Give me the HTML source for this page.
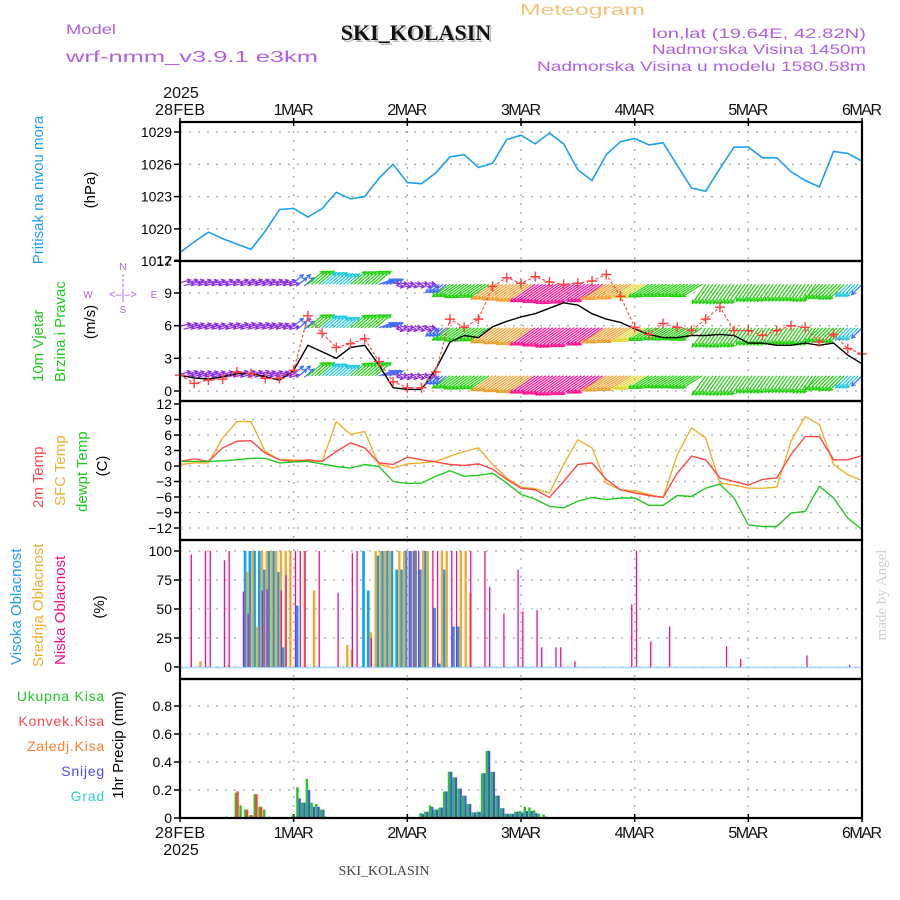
<!DOCTYPE html>
<html><head><meta charset="utf-8">
<style>
html,body{margin:0;padding:0;background:#fff;}
svg{display:block;font-family:"Liberation Sans",sans-serif;}
</style></head>
<body>
<svg id="chart" width="900" height="900" viewBox="0 0 900 900" xmlns="http://www.w3.org/2000/svg">
<text x="520" y="15" font-size="16" fill="#f2c47a" textLength="125" lengthAdjust="spacingAndGlyphs">Meteogram</text>
<text x="418" y="42" font-size="22" font-weight="bold" font-family="Liberation Serif,serif" fill="#bbb" text-anchor="middle">SKI_KOLASIN</text>
<text x="416" y="40" font-size="22" font-weight="bold" font-family="Liberation Serif,serif" fill="#111" text-anchor="middle">SKI_KOLASIN</text>
<text x="66" y="34" font-size="14" fill="#b060e8" textLength="50" lengthAdjust="spacingAndGlyphs">Model</text>
<text x="66" y="62" font-size="16" fill="#b060e8" textLength="252" lengthAdjust="spacingAndGlyphs">wrf-nmm_v3.9.1  e3km</text>
<text x="652" y="38" font-size="14" fill="#b060e8" textLength="214" lengthAdjust="spacingAndGlyphs">lon,lat (19.64E, 42.82N)</text>
<text x="652" y="54" font-size="14" fill="#b060e8" textLength="214" lengthAdjust="spacingAndGlyphs">Nadmorska Visina 1450m</text>
<text x="537" y="71" font-size="14" fill="#b060e8" textLength="329" lengthAdjust="spacingAndGlyphs">Nadmorska Visina u modelu 1580.58m</text>
<text x="384" y="875" font-size="14" font-family="Liberation Serif,serif" fill="#444" text-anchor="middle">SKI_KOLASIN</text>
<text transform="translate(886,595) rotate(-90)" font-size="15" font-family="Liberation Serif,serif" fill="#d0d0d0" text-anchor="middle">made by Angel</text>

<text transform="translate(43,190) rotate(-90)" font-size="15" fill="#1ea0f0" text-anchor="middle">Pritisak na nivou mora</text>
<text transform="translate(95,190) rotate(-90)" font-size="15" fill="#000" text-anchor="middle">(hPa)</text>
<text transform="translate(43,382) rotate(-90)" font-size="15" fill="#22c822">10m Vjetar</text>
<text transform="translate(65,382) rotate(-90)" font-size="15" fill="#22c822">Brzina i Pravac</text>
<text transform="translate(95,322) rotate(-90)" font-size="15" fill="#000" text-anchor="middle">(m/s)</text>
<g fill="#b060e8" font-size="10">
<text x="123" y="270" text-anchor="middle">N</text>
<text x="123" y="313" text-anchor="middle">S</text>
<text x="88" y="298" text-anchor="middle">W</text>
<text x="154" y="298" text-anchor="middle">E</text>
<text x="123" y="298" text-anchor="middle" font-size="11">&lt;–|–&gt;</text>
<line x1="123" y1="274" x2="123" y2="304" stroke="#b060e8" stroke-dasharray="3,2"/>
</g>
<text transform="translate(43,508) rotate(-90)" font-size="15" fill="#ff4848">2m Temp</text>
<text transform="translate(65,506) rotate(-90)" font-size="15" fill="#f0b030">SFC Temp</text>
<text transform="translate(87,512) rotate(-90)" font-size="15" fill="#22c822">dewpt Temp</text>
<text transform="translate(107,466) rotate(-90)" font-size="15" fill="#000" text-anchor="middle">(C)</text>
<text transform="translate(21,665) rotate(-90)" font-size="15" fill="#1ea0f0">Visoka Oblacnost</text>
<text transform="translate(43,667) rotate(-90)" font-size="15" fill="#f0b030">Srednja Oblacnost</text>
<text transform="translate(65,665) rotate(-90)" font-size="15" fill="#f0108a">Niska Oblacnost</text>
<text transform="translate(104,607) rotate(-90)" font-size="15" fill="#000" text-anchor="middle">(%)</text>
<g font-size="14" text-anchor="end" letter-spacing="0.8">
<text x="105" y="701" fill="#22c822">Ukupna Kisa</text>
<text x="105" y="726" fill="#ff4848">Konvek.Kisa</text>
<text x="105" y="751" fill="#ff8030">Zaledj.Kisa</text>
<text x="105" y="776" fill="#4a4aff">Snijeg</text>
<text x="105" y="801" fill="#30d0d0">Grad</text>
</g>
<text transform="translate(123,745) rotate(-90)" font-size="15" fill="#000" text-anchor="middle">1hr Precip (mm)</text>
<g id="plot"></g>
</svg>
<script>
// ---------- data ----------
const dayLabels = ["28FEB","1MAR","2MAR","3MAR","4MAR","5MAR","6MAR"];
const yearLabel = "2025";
// 3-hourly series (49 points, hour = 3*index)
const pressure = [1017.8,1018.8,1019.7,1019.1,1018.6,1018.1,1019.8,1021.8,1021.9,1021.1,1021.9,1023.4,1022.8,1023.0,1024.7,1026.0,1024.3,1024.2,1025.2,1026.7,1026.9,1025.7,1026.1,1028.3,1028.7,1027.9,1028.9,1027.9,1025.5,1024.5,1026.9,1028.1,1028.4,1027.8,1028.0,1025.9,1023.8,1023.5,1025.6,1027.6,1027.6,1026.6,1026.6,1025.3,1024.5,1023.9,1027.2,1027.0,1026.3];
const windSpeed = [1.45,1.2,1.1,1.3,1.6,1.6,1.3,1.0,1.9,4.2,3.6,3.0,4.0,4.2,2.4,0.3,0.15,0.15,2.0,4.5,5.1,4.9,5.9,6.4,6.8,7.1,7.6,8.1,7.9,7.1,6.6,6.3,5.7,5.2,4.9,4.9,5.1,5.1,5.2,5.1,4.4,4.4,4.2,4.2,4.4,4.2,4.4,3.3,2.5];
const windGust = [1.45,0.7,1.0,1.1,1.75,1.6,1.15,1.15,1.9,6.9,5.3,4.0,4.35,4.8,2.7,0.85,0.3,0.3,1.75,6.6,5.85,6.6,9.6,10.4,9.9,10.5,10.0,9.8,9.9,10.1,10.7,8.7,5.85,5.2,6.2,5.85,5.55,6.6,7.7,5.55,5.55,5.1,5.55,6.0,5.85,4.5,5.2,3.9,3.4];
const windDir = [-15,-15,-15,-15,-15,-15,-15,-15,-40,-40,-40,-40,-40,-40,-20,10,10,10,140,145,145,145,145,145,145,145,145,145,145,145,148,148,148,148,148,148,148,125,125,125,125,125,125,125,125,135,135,135,135];
const temp2m = [0.9,1.4,0.9,3.5,4.8,4.9,2.5,1.2,0.9,1.2,0.9,2.8,4.5,3.5,0.6,0.3,1.7,1.2,0.8,0.3,0.1,0.4,-0.6,-2.6,-4.3,-4.6,-6.1,-3.0,0.3,0.6,-2.6,-4.6,-5.2,-5.7,-6.1,-1.4,1.9,1.2,-2.3,-3.0,-3.7,-2.6,-2.3,2.2,5.7,5.7,1.2,1.2,2.0];
const tempSfc = [0.3,0.6,0.6,5.4,8.6,8.6,2.8,1.2,1.2,1.0,0.9,8.6,6.1,6.7,0.3,-0.4,0.4,0.6,0.9,1.9,2.8,3.5,0.3,-2.3,-4.1,-4.4,-5.2,0.3,5.1,3.5,-3.3,-4.6,-4.8,-5.5,-6.1,2.2,7.4,5.4,-3.3,-3.7,-4.3,-4.3,-4.1,4.8,9.6,8.0,0.3,-1.7,-2.8];
const dewpt = [0.9,0.9,0.9,1.0,1.2,1.5,1.5,0.6,0.8,0.9,0.4,-0.1,-0.4,0.3,-0.1,-3.0,-3.4,-3.3,-2.0,-0.9,-2.0,-1.8,-1.4,-3.3,-5.5,-6.4,-7.8,-8.1,-6.8,-6.1,-6.5,-6.2,-6.2,-7.6,-7.6,-5.7,-5.9,-4.3,-3.5,-6.2,-11.4,-11.7,-11.7,-9.1,-8.8,-3.9,-6.2,-10.1,-12.3];
// hourly cloud cover (%)
const lowHours = [2,5,6,9,10,13,14,17,18,21,22,24,25,26,29,33,36,37,40,48,49,50,53,54,57,58,61,64,65,68,71,72,75,76,79,80,83,95,96,99,103,115,118,132,141];
const lowCloud = [97,100,100,92,100,65,46,66,67,66,79,100,100,100,100,64,98,100,25,100,100,100,100,100,100,100,100,100,69,46,84,48,49,17,17,17,5,54,100,22,35,18,7,10,2];
const midHours = [4,10,14,15,16,17,18,19,20,21,22,23,26,28,35,36,40,41,42,43,44,46,47,49,51,52,55,56,59,60,61];
const midCloud = [5,2,82,100,35,100,100,100,100,100,100,100,100,66,19,15,30,100,100,100,100,100,100,100,100,100,100,100,100,100,64];
const highHours = [14,15,16,17,18,19,20,21,22,25,39,40,42,43,44,45,46,47,48,49,50,51,52,54,55,56,58,59];
const highCloud = [100,100,100,100,84,100,100,82,17,53,100,66,96,100,100,100,84,84,100,100,100,84,100,51,3,84,35,35];
// hourly precipitation (mm)
const precipHours = [10,12,13,14,15,16,17,18,19,24,25,26,27,28,29,30,31,51,52,53,54,55,56,57,58,59,60,61,62,63,64,65,66,67,68,69,70,71,72,73,74,75,76,77];
const precipTotal = [0.01,0.18,0.09,0.06,0.02,0.17,0.08,0.06,0.01,0.02,0.22,0.11,0.28,0.11,0.10,0.06,0.01,0.035,0.045,0.09,0.06,0.075,0.19,0.33,0.29,0.21,0.16,0.10,0.04,0.045,0.32,0.48,0.33,0.16,0.07,0.03,0.03,0.045,0.05,0.08,0.075,0.055,0.03,0.025];
const precipConv = [0,0.19,0,0.06,0.02,0.17,0.08,0,0,0,0,0,0,0,0,0,0,0,0,0,0,0,0,0,0,0,0,0,0,0,0,0,0,0,0,0,0,0,0,0,0,0,0,0];
const precipSnow = [0,0,0,0,0,0,0,0,0,0.01,0.14,0.11,0.20,0.08,0.08,0.06,0,0.03,0.045,0.08,0.06,0.075,0.19,0.33,0.29,0.21,0.16,0.10,0.04,0.045,0.32,0.48,0.33,0.16,0.07,0.03,0.03,0.045,0.04,0.05,0.05,0.035,0,0.01];
const pressTicks = [1029,1026,1023,1020,1017];
const windTicks = [12,9,6,3,0];
const tempTicks = [12,9,6,3,0,-3,-6,-9,-12];
const cloudTicks = [100,75,50,25,0];
const precipTicks = [0.8,0.6,0.4,0.2,0];

// ---------- scales ----------
const NS = "http://www.w3.org/2000/svg";
const plot = document.getElementById("plot");
const L = 180, R = 862;
const X = h => L + h * (R - L) / 144;
const yP = v => 132 + (1029 - v) * 10.77;
const yW = v => 391 - v * 10.89;
const yT = v => 404 + (12 - v) * 5.167;
const yC = v => 667 - v * 1.16;
const yR = v => 818 - v * 140;
const panels = [[122,261],[261,401],[401,540],[540,679],[679,818]];

function mk(tag, attrs, parent) {
  const e = document.createElementNS(NS, tag);
  for (const k in attrs) e.setAttribute(k, attrs[k]);
  (parent || plot).appendChild(e);
  return e;
}
function poly(vals, yf, stepH) {
  return vals.map((v, i) => X(i * stepH).toFixed(1) + "," + yf(v).toFixed(1)).join(" ");
}

// grids
const grid = mk("g", {stroke: "#aaa", "stroke-width": 1.3, "stroke-dasharray": "2,7"});


panels.forEach(p => {
  for (let d = 1; d < 6; d++) {
    const l = mk("line", {x1: X(d*24), x2: X(d*24), y1: p[0], y2: p[1]}, grid);
    
    
  }
});
function hgrid(ticks, yf, top, bot) {
  ticks.forEach(t => {
    const y = yf(t);
    if (y > top + 3 && y < bot - 3) {
      const l = mk("line", {x1: L, x2: R, y1: y, y2: y}, grid);
      
      
    }
  });
}
hgrid(pressTicks, yP, 122, 261);
hgrid(windTicks, yW, 261, 401);
hgrid(tempTicks, yT, 401, 540);
hgrid(cloudTicks, yC, 540, 679);
hgrid(precipTicks, yR, 679, 818);

// tick labels
function ticks(arr, yf, fmt, name) {
  const g = mk("g", {"font-size": 14, "text-anchor": "end", fill: "#000"});
  
  
  arr.forEach(t => {
    const y = yf(t);
    const tx = mk("text", {x: 172, y: y + 5}, g);
    tx.textContent = fmt(t);
    mk("line", {x1: 174, x2: 180, y1: y, y2: y, stroke: "#000", "stroke-width": 1.5}, g);
  });
}
ticks(pressTicks, yP, t => String(t), "pressure-axis");
ticks(windTicks, yW, t => String(t), "wind-axis");
ticks(tempTicks, yT, t => (t < 0 ? "−" + (-t) : String(t)), "temp-axis");
ticks(cloudTicks, yC, t => String(t), "cloud-axis");
ticks(precipTicks, yR, t => (t === 0 ? "0" : t.toFixed(1)), "precip-axis");

// day labels top/bottom
const dl = mk("g", {"font-size": 16, fill: "#111", "text-anchor": "middle"});


dayLabels.forEach((d, i) => {
  const x = X(i * 24);
  const t1 = mk("text", {x: x, y: 115, textLength: d.length > 4 ? 50 : 40}, dl); t1.textContent = d;
  const t2 = mk("text", {x: x, y: 838, textLength: d.length > 4 ? 50 : 40}, dl); t2.textContent = d;
  mk("line", {x1: x, x2: x, y1: 118, y2: 126, stroke: "#000", "stroke-width": 1.5}, dl);
  mk("line", {x1: x, x2: x, y1: 814, y2: 822, stroke: "#000", "stroke-width": 1.5}, dl);
});
const yr1 = mk("text", {x: X(0) + 1, y: 98}, dl); yr1.textContent = yearLabel;
const yr2 = mk("text", {x: X(0) + 1, y: 855}, dl); yr2.textContent = yearLabel;

// ---------- cloud bars ----------
function bars(hours, vals, color, dx, w, name) {
  const g = mk("g", {fill: color});
  
  
  hours.forEach((h, i) => {
    const y = yC(vals[i]);
    const r = mk("rect", {x: X(h) + dx, y: y, width: w, height: Math.max(0.5, yC(0) - y)}, g);
    
    
  });
}
mk("line", {x1: L, x2: R, y1: yC(0) + 0.5, y2: yC(0) + 0.5, stroke: "#a0d8ff", "stroke-width": 1.5});
bars(highHours, highCloud, "#0aa0ff", -2.5, 2.6, "high-cloud-bars");
bars(midHours, midCloud, "#f0aa30", 0.3, 2.4, "mid-cloud-bars");
bars(lowHours, lowCloud, "#f0108a", 1.2, 1.3, "low-cloud-bars");

// ---------- precip bars ----------
const pg = mk("g", {});


precipHours.forEach((h, i) => {
  const x = X(h);
  const a = mk("rect", {x: x - 2.2, y: yR(precipTotal[i]), width: 2.4, height: precipTotal[i] * 140, fill: "#22c822"}, pg);
  
  
  if (precipConv[i] > 0) {
    const c = mk("rect", {x: x - 0.5, y: yR(precipConv[i]), width: 2.4, height: precipConv[i] * 140, fill: "#ff4040"}, pg);
    
    
  }
  if (precipSnow[i] > 0) {
    const s = mk("rect", {x: x + 0.2, y: yR(precipSnow[i]), width: 2.2, height: precipSnow[i] * 140, fill: "#4a4aff"}, pg);
    
    
  }
});

// ---------- pressure ----------
const pl = mk("polyline", {points: poly(pressure, yP, 3), fill: "none", stroke: "#1ea0f0", "stroke-width": 1.6});



// ---------- wind arrows ----------
function windColor(s) {
  if (s < 1.7) return "#8a2be2";
  if (s < 2.6) return "#3a6cff";
  if (s < 3.8) return "#20c8e0";
  if (s < 5.3) return "#22d010";
  if (s < 5.9) return "#e0d830";
  if (s < 7.0) return "#f0a030";
  return "#ff1493";
}
const rowsMs = [9.8, 5.8, 1.4];
const wg = mk("g", {"stroke-width": 1.2, fill: "none"});


windSpeed.forEach((s, k) => {
  const col = windColor(s);
  const ang = windDir[k] * Math.PI / 180;
  const len = 6 + 3.4 * s;
  for (let j = 0; j < 4; j++) {
    const h = 3 * k + j * 0.75;
    if (h > 144) break;
    const x0 = X(h);
    rowsMs.forEach(r => {
      const y0 = yW(r) + ((j % 2) ? 1.5 : -1.5) * (s < 2 ? 1 : 0);
      const x1 = x0 + len * Math.cos(ang), y1 = y0 + len * Math.sin(ang);
      const a1 = ang + Math.PI - 0.5, a2 = ang + Math.PI + 0.5;
      const p = mk("path", {d: `M${x0.toFixed(1)},${y0.toFixed(1)}L${x1.toFixed(1)},${y1.toFixed(1)}M${(x1+4*Math.cos(a1)).toFixed(1)},${(y1+4*Math.sin(a1)).toFixed(1)}L${x1.toFixed(1)},${y1.toFixed(1)}L${(x1+4*Math.cos(a2)).toFixed(1)},${(y1+4*Math.sin(a2)).toFixed(1)}`, stroke: col}, wg);
      
      
    });
  }
});
const ws = mk("polyline", {points: poly(windSpeed, yW, 3), fill: "none", stroke: "#000", "stroke-width": 1.4});


const gl = mk("polyline", {points: poly(windGust, yW, 3), fill: "none", stroke: "#ff5050", "stroke-width": 1.2, "stroke-dasharray": "3,2"});


const gm = mk("g", {stroke: "#ff4040", "stroke-width": 1.4});


windGust.forEach((v, i) => {
  const x = X(i * 3), y = yW(v);
  const m = mk("path", {d: `M${x-5},${y}H${x+5}M${x},${y-5}V${y+5}`}, gm);
  
  
});

// ---------- temperatures ----------
[[tempSfc, "#f0b030", "sfc-temp-line"], [temp2m, "#ff4848", "temp-2m-line"], [dewpt, "#22c822", "dewpoint-line"]].forEach(s => {
  const l = mk("polyline", {points: poly(s[0], yT, 3), fill: "none", stroke: s[1], "stroke-width": 1.4});
  
  
});

// ---------- panel frames ----------
const fr = mk("g", {stroke: "#000", "stroke-width": 2.2, fill: "none"});


panels.forEach(p => {
  const r = mk("rect", {x: L, y: p[0], width: R - L, height: p[1] - p[0]}, fr);
  
  
});
</script>
</body></html>
